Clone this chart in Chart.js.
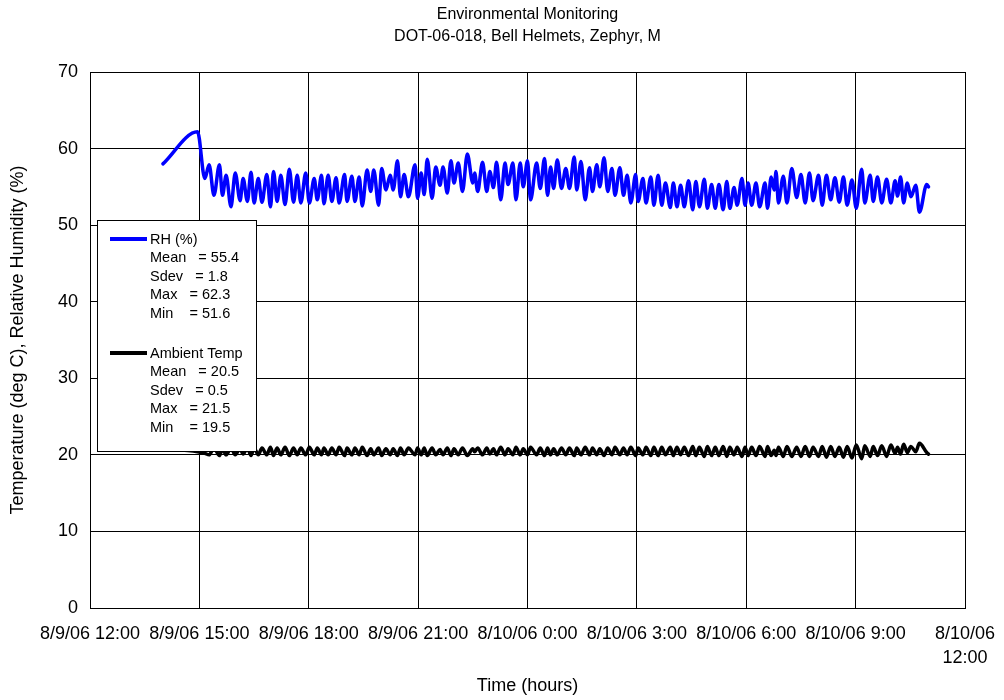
<!DOCTYPE html>
<html>
<head>
<title>Environmental Monitoring</title>
<script src="https://cdn.jsdelivr.net/npm/chart.js@4.4.0/dist/chart.umd.min.js"></script>
<style>
  body { margin: 0; background: #fff; }
</style>
</head>
<body>
<canvas id="myChart" width="1004" height="700"></canvas>
<script>
// time of each reading, minutes after 8/9/06 12:00
var times = [
  120, 177, 189, 196, 204, 213, 218, 224, 232, 239, 247, 252, 259, 265, 270, 277,
  283, 291, 297, 302, 308, 314, 321, 328, 335, 341, 347, 355, 361, 369, 374, 381,
  385, 392, 398, 405, 410, 419, 423, 431, 436, 443, 448, 456, 462, 467, 475, 480,
  487, 494, 499, 506, 511, 517, 524, 535, 539, 545, 550, 555, 563, 569, 576, 581,
  588, 594, 599, 606, 613, 621, 630, 633, 638, 646, 653, 658, 664, 669, 676, 683,
  688, 696, 701, 708, 713, 720, 725, 735, 741, 748, 753, 758, 763, 769, 776, 783,
  789, 797, 801, 808, 815, 822, 827, 834, 839, 846, 852, 859, 864, 872, 878, 884,
  890, 898, 902, 910, 915, 923, 928, 935, 941, 947, 955, 960, 966, 972, 978, 985,
  992, 997, 1003, 1011, 1016, 1023, 1029, 1035, 1042, 1048, 1053, 1060, 1065, 1073, 1078, 1083,
  1089, 1096, 1102, 1111, 1115, 1121, 1126, 1129, 1133, 1141, 1147, 1155, 1163, 1170, 1177, 1184,
  1190, 1199, 1205, 1212, 1219, 1226, 1233, 1240, 1246, 1254, 1261, 1270, 1275, 1284, 1289, 1296,
  1303, 1311, 1318, 1325, 1329, 1334, 1339, 1345, 1351, 1359, 1365, 1377, 1380
];

var rhValues = [
  58.0, 62.2, 56.1, 57.9, 53.9, 57.9, 53.9, 56.5, 52.4, 56.8, 53.2, 56.1, 53.1, 56.9, 52.9, 56.1,
  53.0, 56.6, 52.4, 57.0, 53.1, 56.5, 52.7, 57.3, 53.0, 56.5, 52.9, 56.8, 52.9, 56.1, 53.3, 56.5,
  52.8, 56.5, 53.1, 56.2, 52.9, 56.6, 53.1, 56.4, 53.1, 56.3, 52.5, 57.2, 54.4, 57.2, 52.6, 57.4,
  54.6, 56.5, 54.6, 58.4, 53.7, 56.6, 53.7, 57.9, 53.5, 56.8, 54.0, 58.6, 53.5, 57.6, 55.2, 57.6,
  54.2, 58.4, 55.5, 58.1, 54.4, 59.3, 55.5, 56.8, 54.4, 58.2, 54.4, 57.0, 54.9, 58.2, 53.3, 58.1,
  55.3, 58.1, 53.3, 58.1, 55.0, 58.4, 53.3, 58.1, 54.8, 58.7, 53.9, 57.6, 54.8, 58.5, 54.8, 57.4,
  54.8, 58.9, 54.6, 58.3, 53.3, 57.5, 54.4, 57.9, 55.0, 58.8, 54.4, 57.4, 53.9, 57.5, 53.9, 56.5,
  52.9, 56.6, 53.1, 56.1, 52.9, 56.3, 52.6, 56.5, 52.6, 55.5, 52.3, 55.5, 52.4, 55.2, 52.4, 55.8,
  52.0, 55.7, 52.4, 56.0, 52.2, 55.3, 52.2, 55.3, 52.0, 55.7, 52.2, 54.9, 52.6, 56.1, 52.6, 55.5,
  52.6, 55.5, 52.4, 55.5, 52.2, 56.3, 54.6, 57.0, 52.9, 56.4, 52.9, 57.4, 53.6, 56.6, 52.9, 56.8,
  53.2, 56.5, 52.6, 56.5, 53.3, 56.2, 53.0, 56.3, 52.6, 55.9, 52.2, 57.3, 52.9, 56.5, 53.1, 56.3,
  52.9, 56.0, 52.9, 55.8, 53.8, 56.3, 52.9, 55.5, 53.7, 55.2, 51.7, 55.3, 55.0
];

var tempValues = [
  20.8, 20.4, 20.2, 20.0, 20.9, 19.9, 20.8, 20.0, 20.9, 20.0, 20.8, 20.1, 20.9, 19.9, 20.9, 20.0,
  20.9, 20.0, 21.0, 19.9, 20.9, 20.0, 21.0, 19.9, 20.9, 20.0, 20.9, 20.0, 21.0, 20.0, 20.9, 20.0,
  20.9, 20.0, 20.9, 20.0, 21.0, 19.9, 20.9, 20.0, 20.9, 20.0, 21.0, 19.9, 20.8, 20.0, 20.9, 19.9,
  20.8, 20.0, 20.8, 19.9, 20.9, 20.0, 20.9, 20.0, 20.9, 20.0, 20.9, 19.9, 20.9, 20.0, 20.7, 20.0,
  20.9, 19.9, 20.8, 20.0, 20.9, 19.9, 20.8, 20.4, 20.9, 20.0, 20.9, 20.1, 20.8, 20.0, 21.0, 20.0,
  20.8, 20.0, 21.0, 20.0, 20.8, 20.0, 21.0, 20.0, 20.9, 19.9, 20.9, 20.0, 20.8, 20.0, 20.9, 20.0,
  20.9, 19.9, 20.9, 20.0, 21.0, 20.0, 20.9, 20.0, 20.8, 19.9, 20.9, 20.0, 21.0, 20.0, 20.9, 20.0,
  21.0, 19.9, 20.9, 20.0, 21.0, 19.9, 21.0, 19.9, 21.0, 20.0, 21.0, 19.9, 21.0, 20.0, 21.0, 19.9,
  21.1, 19.9, 21.0, 19.8, 21.1, 19.9, 21.0, 19.9, 21.1, 19.8, 21.0, 20.0, 21.0, 19.8, 21.0, 19.9,
  21.0, 19.9, 21.1, 19.8, 21.1, 19.9, 20.6, 19.9, 21.0, 19.8, 21.1, 19.8, 21.0, 19.8, 21.1, 19.8,
  21.0, 19.8, 21.1, 19.7, 21.1, 19.8, 21.0, 19.7, 21.1, 19.6, 21.3, 19.5, 21.2, 19.8, 21.1, 19.9,
  21.2, 19.8, 21.3, 20.2, 21.0, 20.1, 21.4, 20.3, 21.1, 20.4, 21.5, 20.3, 20.1
];

var xTickLabels = [
  '8/9/06 12:00', '8/9/06 15:00', '8/9/06 18:00', '8/9/06 21:00', '8/10/06 0:00',
  '8/10/06 3:00', '8/10/06 6:00', '8/10/06 9:00', ['8/10/06', '12:00']
];

var rhStats = ['Mean   = 55.4', 'Sdev   = 1.8', 'Max   = 62.3', 'Min    = 51.6'];
var tempStats = ['Mean   = 20.5', 'Sdev   = 0.5', 'Max   = 21.5', 'Min    = 19.5'];

var FONT = '"Liberation Sans", Arial, sans-serif';

function points(vals) {
  return times.map(function (t, i) { return { x: t, y: vals[i] }; });
}

// two-line title centred over the plot
var titlePlugin = {
  id: 'topTitle',
  afterDraw: function (chart) {
    var ctx = chart.ctx, a = chart.chartArea;
    var cx = (a.left + a.right) / 2;
    ctx.save();
    ctx.fillStyle = '#000';
    ctx.font = '16px ' + FONT;
    ctx.textAlign = 'center';
    ctx.textBaseline = 'middle';
    ctx.fillText('Environmental Monitoring', cx, 15);
    ctx.fillText('DOT-06-018, Bell Helmets, Zephyr, M', cx, 37);
    ctx.restore();
  }
};

// boxed legend with the statistics, sitting on top of the plot
var statsLegend = {
  id: 'statsLegend',
  afterDraw: function (chart) {
    var ctx = chart.ctx;
    ctx.save();
    ctx.fillStyle = '#fff';
    ctx.fillRect(97.5, 220.5, 159, 231);
    ctx.strokeStyle = '#000';
    ctx.lineWidth = 1;
    ctx.strokeRect(97.5, 220.5, 159, 231);

    ctx.font = '14.5px ' + FONT;
    ctx.textBaseline = 'middle';
    ctx.textAlign = 'left';

    function block(y0, color, name, stats) {
      ctx.strokeStyle = color;
      ctx.lineWidth = 4;
      ctx.beginPath();
      ctx.moveTo(110, y0);
      ctx.lineTo(147, y0);
      ctx.stroke();
      ctx.fillStyle = '#000';
      ctx.fillText(name, 150, y0 + 1);
      stats.forEach(function (s, i) {
        ctx.fillText(s, 150, y0 + 1 + (i + 1) * 18.4);
      });
    }
    block(239, '#0000ff', 'RH (%)', rhStats);
    block(353, '#000000', 'Ambient Temp', tempStats);
    ctx.restore();
  }
};

var ctx = document.getElementById('myChart').getContext('2d');
var myChart = new Chart(ctx, {
  type: 'line',
  data: {
    datasets: [{
      label: 'RH (%)',
      data: points(rhValues),
      borderColor: '#0000ff',
      backgroundColor: '#0000ff',
      borderWidth: 3.5,
      borderJoinStyle: 'round',
      borderCapStyle: 'round',
      cubicInterpolationMode: 'monotone',
      pointRadius: 0
    }, {
      label: 'Ambient Temp',
      data: points(tempValues),
      borderColor: '#000000',
      backgroundColor: '#000000',
      borderWidth: 3.5,
      borderJoinStyle: 'round',
      borderCapStyle: 'round',
      cubicInterpolationMode: 'monotone',
      pointRadius: 0
    }]
  },
  options: {
    responsive: false,
    devicePixelRatio: 1,
    animation: false,
    color: '#000',
    layout: { padding: { top: 72, right: 39, bottom: 0, left: 0 } },
    plugins: {
      legend: { display: false },
      title: { display: false },
      tooltip: { enabled: false }
    },
    scales: {
      x: {
        type: 'linear',
        min: 0,
        max: 1440,
        afterFit: function (s) {
          s.height = 92;
          s.paddingLeft = 0;
          s.paddingRight = 0;
        },
        grid: { color: '#000', lineWidth: 1, drawTicks: false },
        border: { color: '#000', width: 1 },
        ticks: {
          stepSize: 180,
          autoSkip: false,
          maxRotation: 0,
          minRotation: 0,
          padding: 14,
          color: '#000',
          font: { family: FONT, size: 18, lineHeight: 1.35 },
          callback: function (v) { return xTickLabels[Math.round(v / 180)]; }
        },
        title: {
          display: true,
          text: 'Time (hours)',
          color: '#000',
          font: { family: FONT, size: 18 },
          padding: { top: 0, bottom: 3 }
        }
      },
      y: {
        min: 0,
        max: 70,
        afterFit: function (s) { s.width = 90; },
        grid: { color: '#000', lineWidth: 1, drawTicks: false },
        border: { color: '#000', width: 1 },
        ticks: {
          stepSize: 10,
          padding: 12,
          color: '#000',
          font: { family: FONT, size: 18 }
        },
        title: {
          display: true,
          text: 'Temperature (deg C), Relative Humidity (%)',
          color: '#000',
          font: { family: FONT, size: 18 },
          padding: { top: 7, bottom: 0 }
        }
      }
    }
  },
  plugins: [titlePlugin, statsLegend]
});
</script>
</body>
</html>
